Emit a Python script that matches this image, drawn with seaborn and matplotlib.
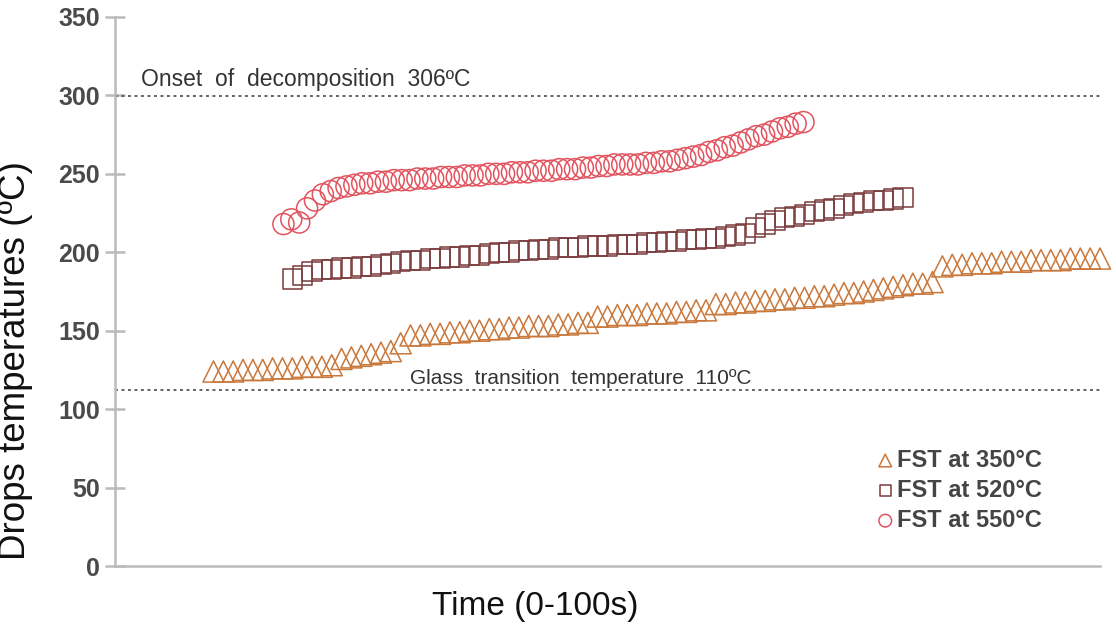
import numpy as np
import pandas as pd
import matplotlib
matplotlib.use("Agg")
import matplotlib.pyplot as plt
import seaborn as sns

# ---- data ----
labels = ["FST at 350°C", "FST at 520°C", "FST at 550°C"]

t350_start, t350_step = 10.0, 1.0
temp_350 = [124, 124, 124, 125, 125, 125, 126, 126, 126, 127, 127, 127, 128,
            132, 133, 134, 135, 136, 137,
            142,
            147, 147, 148, 148, 149, 149, 150, 150, 151, 151, 152, 152, 153, 153,
            153, 154, 154, 155, 155,
            159, 159, 160, 160, 160, 161, 161, 161, 162, 162, 163, 163,
            167, 167, 168, 168, 169, 169, 170, 170, 171, 171, 172, 172, 173, 174,
            174, 175, 176, 177, 178, 179, 180, 180, 181,
            191, 192, 192, 193, 193, 193, 194, 194, 194, 195, 195, 195, 195, 196,
            196, 196, 196]

t520_start, t520_step = 18.0, 1.0
temp_520 = [183, 185, 188, 189, 189, 190, 190, 191, 191, 192, 193, 194, 195,
            195, 196, 196, 197, 197, 198, 198, 199, 200, 200, 201, 201, 202,
            202, 203, 203, 203, 204, 204, 204, 205, 205, 205, 206, 206, 207,
            207, 208, 208, 209, 209, 210, 211, 212, 216, 218, 220, 222, 223,
            224, 226, 227, 228, 230, 231, 232, 233, 233, 234, 235]

t550_start, t550_step = 17.1, 0.8
temp_550 = [218, 221, 219, 228, 233, 237, 239, 241, 242, 243, 244, 244, 245,
            245, 246, 246, 246, 247, 247, 247, 248, 248, 248, 249, 249, 249,
            250, 250, 250, 251, 251, 251, 252, 252, 252, 253, 253, 253, 254,
            254, 255, 255, 256, 256, 256, 256, 257, 257, 258, 258, 259, 260,
            261, 262, 264, 265, 267, 268, 270, 272, 274, 275, 277, 279, 280,
            282, 283]

onset_value, onset_text = 299.5, "Onset  of  decomposition  306ºC"
glass_value, glass_text = 112, "Glass  transition  temperature  110ºC"

yticks = [0, 50, 100, 150, 200, 250, 300, 350]

# ---- styling ----
sns.set_theme(style="white")
plt.rcParams["font.family"] = ["Liberation Sans", "DejaVu Sans"]

colors = ["#C9783C", "#7A3A3C", "#E2535E"]
markers = ["^", "s", "o"]
sizes = [230, 190, 230]

W, H = 1116, 633
fig = plt.figure(figsize=(W / 100, H / 100), dpi=100)
ax_l, ax_r, ax_b, ax_t = 115, 1100, 566, 17
ax = fig.add_axes([ax_l / W, 1 - ax_b / H, (ax_r - ax_l) / W, (ax_b - ax_t) / H])

series = [
    (t350_start, t350_step, temp_350),
    (t520_start, t520_step, temp_520),
    (t550_start, t550_step, temp_550),
]
frames = []
for (start, step, vals), lab in zip(series, labels):
    times = start + step * np.arange(len(vals))
    frames.append(pd.DataFrame({"time": times, "temp": vals, "series": lab}))
df = pd.concat(frames, ignore_index=True)

for lab, col, mk, sz in zip(labels, colors, markers, sizes):
    sub = df[df["series"] == lab]
    sns.scatterplot(data=sub, x="time", y="temp", ax=ax, marker=mk, s=sz,
                    color=col, facecolor="none", edgecolor=col, linewidth=1.1,
                    label=lab, clip_on=False, zorder=3)

# reference lines
for val in (onset_value, glass_value):
    ax.axhline(val, color="#555555", lw=1.3, ls=(0, (1.6, 2.0)), zorder=2)
ax.text(2.6, 310, onset_text, fontsize=16.5, color="#333333", va="center", ha="left")
ax.text(30.0, 119.5, glass_text, fontsize=15, color="#333333", va="center", ha="left")

ax.set_xlim(0, 100)
ax.set_ylim(0, 350)
ax.set_yticks(yticks)
ax.set_xticks([])
ax.tick_params(axis="y", direction="inout", length=14, width=1.8, color="#BBBBBB",
               labelsize=18, labelcolor="#4A4A4A", pad=4, left=True)
for lbl in ax.get_yticklabels():
    lbl.set_fontweight("bold")
for side in ("top", "right"):
    ax.spines[side].set_visible(False)
for side in ("left", "bottom"):
    ax.spines[side].set_color("#BBBBBB")
    ax.spines[side].set_linewidth(1.8)

ax.set_ylabel("Drops temperatures (ºC)", fontsize=26.5, color="#111111")
ax.yaxis.set_label_coords((33 - ax_l) / (ax_r - ax_l), 0.375)
ax.set_xlabel("Time (0-100s)", fontsize=24, color="#111111")
ax.xaxis.set_label_coords((535 - ax_l) / (ax_r - ax_l), -(591 - ax_b) / (ax_b - ax_t))

leg = ax.legend(loc="lower left", bbox_to_anchor=((864 - ax_l) / (ax_r - ax_l), 0.045),
                frameon=False, handletextpad=0.0, handlelength=1.0,
                labelspacing=0.3, markerscale=0.6, borderaxespad=0,
                prop={"size": 17, "weight": "bold"})
for txt in leg.get_texts():
    txt.set_color("#444444")

fig.savefig("out.png", dpi=100)
